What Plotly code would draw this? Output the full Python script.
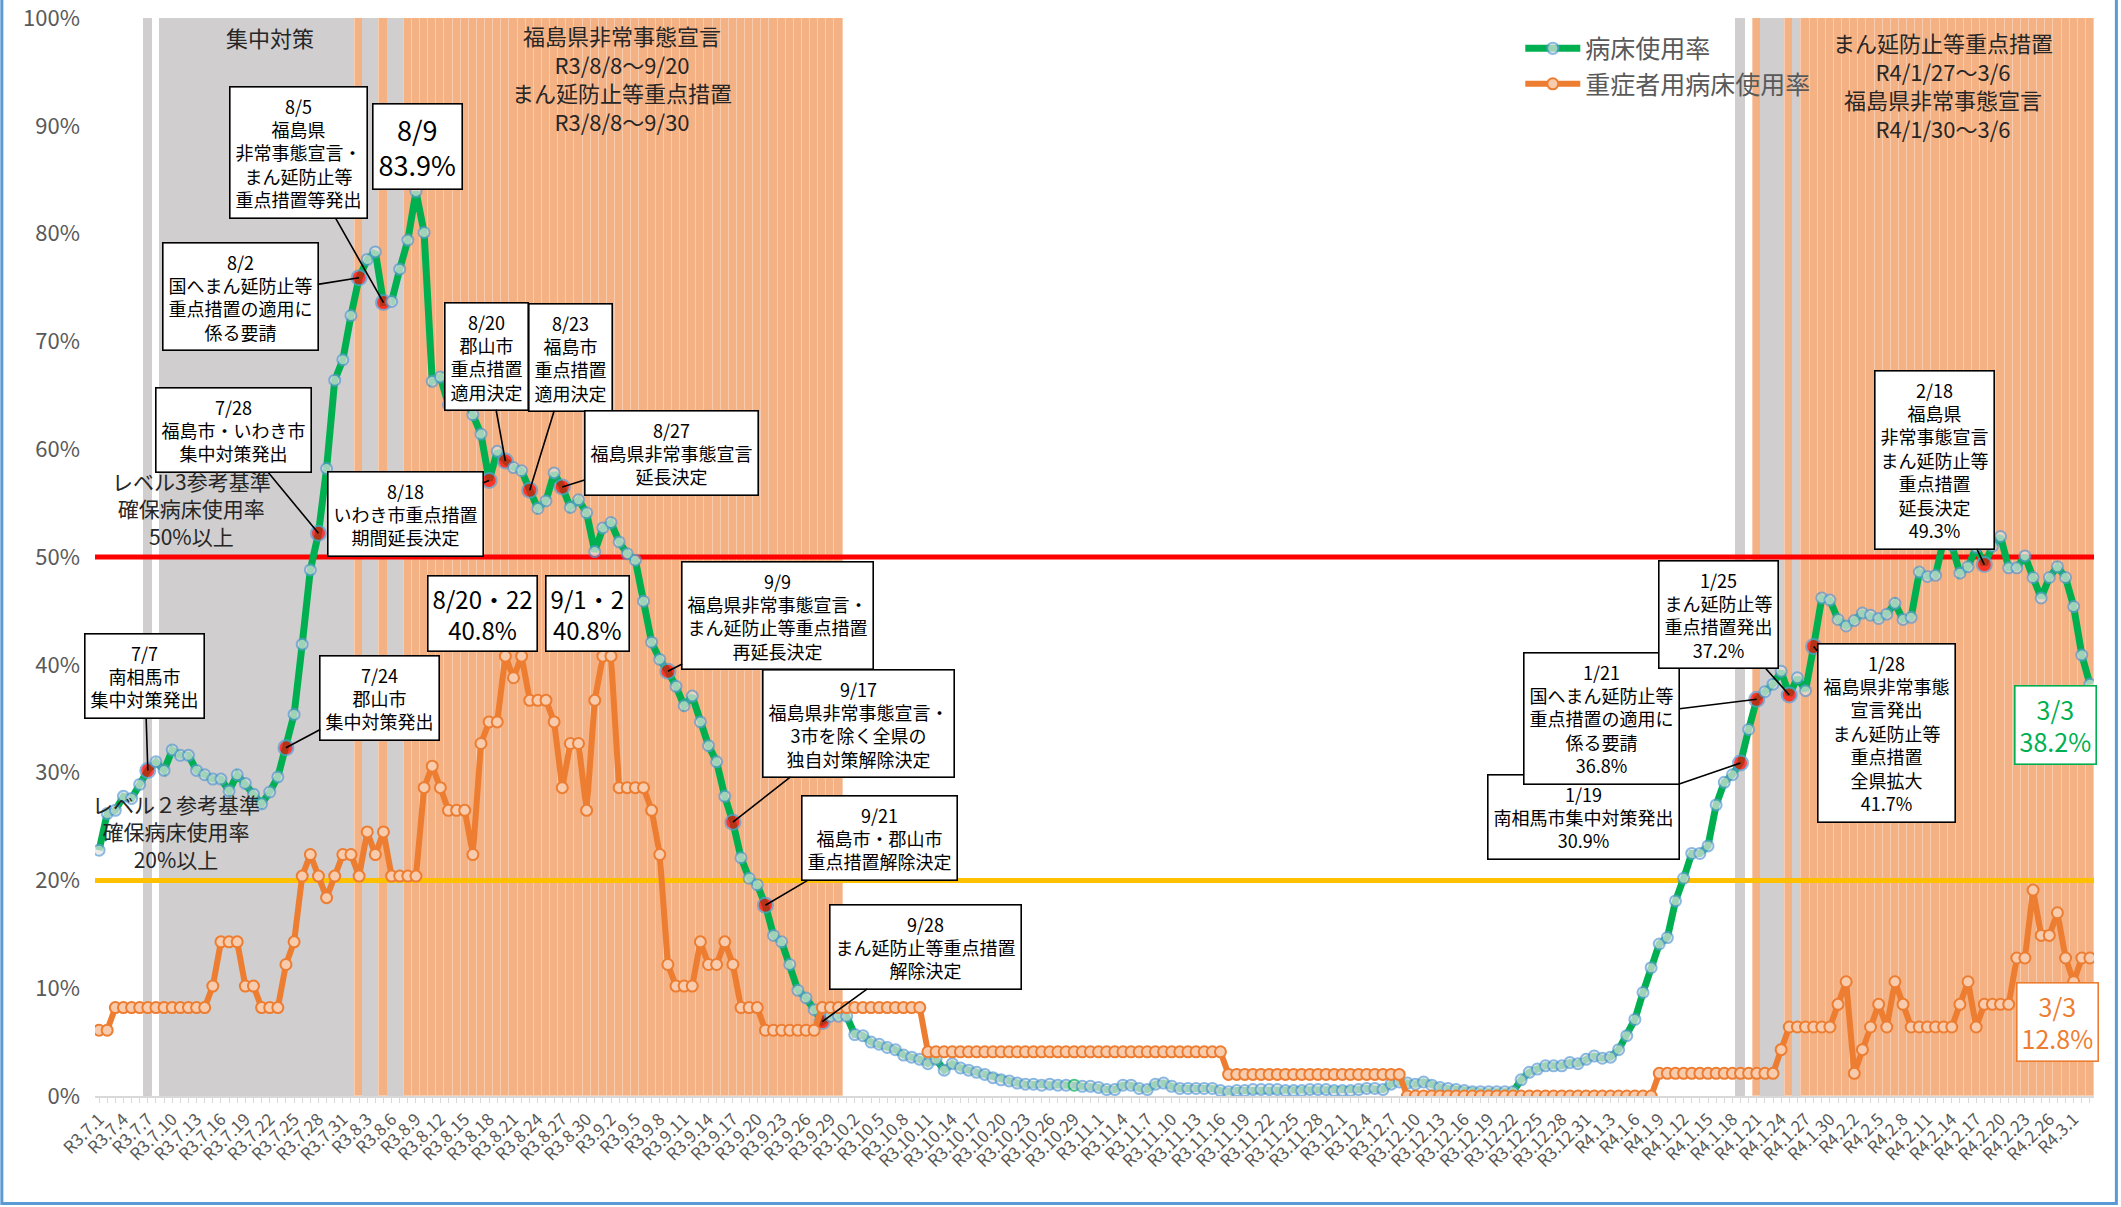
import plotly.graph_objects as go
from datetime import date, timedelta

FONT = "Noto Sans CJK JP"

# ---------------- categories (daily, R3.7.1 - R4.3.3) ----------------
start_day = date(2021, 7, 1)
n_days = 246
day_list = [start_day + timedelta(days=i) for i in range(n_days)]
date_labels = [f"R{d.year - 2018}.{d.month}.{d.day}" for d in day_list]
xpos = list(range(n_days))
tick_vals = xpos[::3]
tick_text = date_labels[::3]
y_tick_vals = [0, 10, 20, 30, 40, 50, 60, 70, 80, 90, 100]
y_tick_text = ["0%", "10%", "20%", "30%", "40%", "50%", "60%", "70%", "80%", "90%", "100%"]

# ---------------- series values (%) ----------------
bed_rate = [
    22.8, 26.2, 26.5, 27.8, 27.6, 28.9, 30.2, 31.0, 30.2, 32.1,
    31.6, 31.6, 30.2, 29.8, 29.4, 29.4, 28.3, 29.8, 29.0, 28.0,
    27.1, 28.2, 29.6, 32.3, 35.4, 41.9, 48.8, 52.2, 58.2, 66.4,
    68.3, 72.4, 75.9, 77.6, 78.3, 73.6, 73.7, 76.7, 79.4, 83.9,
    80.1, 66.3, 66.7, 64.1, 64.6, 64.6, 63.2, 61.4, 57.1, 59.8,
    58.9, 58.3, 58.0, 56.2, 54.5, 55.2, 57.8, 56.5, 54.6, 55.3,
    54.1, 50.5, 52.7, 53.2, 51.4, 50.3, 49.7, 45.9, 42.1, 40.5,
    39.4, 38.0, 36.2, 37.1, 34.7, 32.5, 31.0, 27.8, 25.4, 22.1,
    20.2, 19.6, 17.7, 14.9, 14.3, 12.2, 9.8, 9.1, 8.0, 6.9,
    7.4, 7.4, 7.4, 5.7, 5.6, 5.0, 4.8, 4.5, 4.3, 3.8,
    3.6, 3.4, 3.0, 3.4, 2.4, 3.0, 2.6, 2.4, 2.2, 2.0,
    1.7, 1.5, 1.4, 1.2, 1.1, 1.1, 1.0, 1.1, 1.0, 1.0,
    1.0, 0.9, 0.9, 0.8, 0.6, 0.6, 1.0, 1.0, 0.7, 0.6,
    1.1, 1.2, 0.9, 0.7, 0.7, 0.7, 0.7, 0.7, 0.5, 0.4,
    0.5, 0.5, 0.6, 0.6, 0.6, 0.6, 0.5, 0.5, 0.5, 0.6,
    0.6, 0.6, 0.5, 0.5, 0.5, 0.6, 0.7, 0.7, 0.6, 1.1,
    1.3, 1.2, 1.1, 1.3, 1.0, 0.8, 0.7, 0.6, 0.5, 0.4,
    0.4, 0.4, 0.4, 0.4, 0.4, 1.5, 2.2, 2.5, 2.8, 2.8,
    2.8, 3.1, 3.0, 3.4, 3.7, 3.5, 3.6, 4.3, 5.6, 7.1,
    9.6, 11.9, 14.1, 14.7, 18.1, 20.2, 22.5, 22.5, 23.2, 27.0,
    29.1, 29.8, 30.9, 34.0, 36.8, 37.5, 38.2, 39.4, 37.2, 38.8,
    37.6, 41.7, 46.2, 46.0, 44.2, 43.6, 44.1, 44.8, 44.6, 44.3,
    44.7, 45.7, 44.2, 44.4, 48.6, 48.2, 48.3, 51.6, 51.1, 48.5,
    49.1, 50.9, 49.3, 51.0, 51.9, 49.0, 49.0, 50.1, 48.1, 46.2,
    48.1, 49.1, 48.1, 45.4, 40.9, 38.2,
]

severe_rate = [
    6.1, 6.1, 8.2, 8.2, 8.2, 8.2, 8.2, 8.2, 8.2, 8.2,
    8.2, 8.2, 8.2, 8.2, 10.2, 14.3, 14.3, 14.3, 10.2, 10.2,
    8.2, 8.2, 8.2, 12.2, 14.3, 20.4, 22.4, 20.4, 18.4, 20.4,
    22.4, 22.4, 20.4, 24.5, 22.4, 24.5, 20.4, 20.4, 20.4, 20.4,
    28.6, 30.6, 28.6, 26.5, 26.5, 26.5, 22.4, 32.7, 34.7, 34.7,
    40.8, 38.8, 40.8, 36.7, 36.7, 36.7, 34.7, 28.6, 32.7, 32.7,
    26.5, 36.7, 40.8, 40.8, 28.6, 28.6, 28.6, 28.6, 26.5, 22.4,
    12.2, 10.2, 10.2, 10.2, 14.3, 12.2, 12.2, 14.3, 12.2, 8.2,
    8.2, 8.2, 6.1, 6.1, 6.1, 6.1, 6.1, 6.1, 6.1, 8.2,
    8.2, 8.2, 8.2, 8.2, 8.2, 8.2, 8.2, 8.2, 8.2, 8.2,
    8.2, 8.2, 4.1, 4.1, 4.1, 4.1, 4.1, 4.1, 4.1, 4.1,
    4.1, 4.1, 4.1, 4.1, 4.1, 4.1, 4.1, 4.1, 4.1, 4.1,
    4.1, 4.1, 4.1, 4.1, 4.1, 4.1, 4.1, 4.1, 4.1, 4.1,
    4.1, 4.1, 4.1, 4.1, 4.1, 4.1, 4.1, 4.1, 4.1, 2.0,
    2.0, 2.0, 2.0, 2.0, 2.0, 2.0, 2.0, 2.0, 2.0, 2.0,
    2.0, 2.0, 2.0, 2.0, 2.0, 2.0, 2.0, 2.0, 2.0, 2.0,
    2.0, 0.0, 0.0, 0.0, 0.0, 0.0, 0.0, 0.0, 0.0, 0.0,
    0.0, 0.0, 0.0, 0.0, 0.0, 0.0, 0.0, 0.0, 0.0, 0.0,
    0.0, 0.0, 0.0, 0.0, 0.0, 0.0, 0.0, 0.0, 0.0, 0.0,
    0.0, 0.0, 2.1, 2.1, 2.1, 2.1, 2.1, 2.1, 2.1, 2.1,
    2.1, 2.1, 2.1, 2.1, 2.1, 2.1, 2.1, 4.3, 6.4, 6.4,
    6.4, 6.4, 6.4, 6.4, 8.5, 10.6, 2.1, 4.3, 6.4, 8.5,
    6.4, 10.6, 8.5, 6.4, 6.4, 6.4, 6.4, 6.4, 6.4, 8.5,
    10.6, 6.4, 8.5, 8.5, 8.5, 8.5, 12.8, 12.8, 19.1, 14.9,
    14.9, 17.0, 12.8, 10.6, 12.8, 12.8,
]

thresholds = [50, 20]
threshold_colors = ["#FF0000", "#FFC000"]

event_days = ["R3.7.7", "R3.7.24", "R3.7.28", "R3.8.2", "R3.8.5", "R3.8.18",
              "R3.8.20", "R3.8.23", "R3.8.27", "R3.9.9", "R3.9.17", "R3.9.21",
              "R3.9.28", "R4.1.19", "R4.1.21", "R4.1.25", "R4.1.28", "R4.2.18"]

gray_ranges = [("R3.7.7", "R3.7.7"), ("R3.7.9", "R3.8.1"), ("R3.8.3", "R3.8.4"),
               ("R3.8.6", "R3.8.7"), ("R4.1.19", "R4.1.19"), ("R4.1.22", "R4.1.24"),
               ("R4.1.26", "R4.1.26")]
orange_ranges = [("R3.8.2", "R3.8.2"), ("R3.8.5", "R3.8.5"), ("R3.8.8", "R3.9.30"),
                 ("R4.1.21", "R4.1.21"), ("R4.1.25", "R4.1.25"), ("R4.1.27", "R4.3.3")]

GRAY = "#D0CECE"
ORANGE_BAND = "#F4B183"


def expand(ranges):
    out = set()
    for a, b in ranges:
        out.update(range(date_labels.index(a), date_labels.index(b) + 1))
    return out


gray_idx = expand(gray_ranges)
orange_idx = expand(orange_ranges)
band_y, band_col, band_line = [], [], []
for i in xpos:
    if i in orange_idx:
        band_y.append(100); band_col.append(ORANGE_BAND); band_line.append("#F8CDAF")
    elif i in gray_idx:
        band_y.append(100); band_col.append(GRAY); band_line.append(GRAY)
    else:
        band_y.append(None); band_col.append("white"); band_line.append("white")

fig = go.Figure()
fig.add_trace(go.Bar(x=xpos, y=band_y, width=1, marker=dict(color=band_col, line=dict(color=band_line, width=1)),
                     showlegend=False, hoverinfo="skip"))

xr = [xpos[0] - 0.5, xpos[-1] + 0.5]
for t, c in zip(thresholds, threshold_colors):
    fig.add_trace(go.Scatter(x=xr, y=[t, t], mode="lines", line=dict(color=c, width=5),
                             showlegend=False, hoverinfo="skip", cliponaxis=False))

ev_set = {date_labels.index(e) for e in event_days}
g_colors = ["#FF0000" if i in ev_set else "#E3E3E3" for i in xpos]
g_sizes = [15 if i in ev_set else 11 for i in xpos]
g_line = ["#5B9BD5"] * n_days
g_line[date_labels.index("R3.10.29")] = "#00B050"

fig.add_trace(go.Scatter(x=xpos, y=bed_rate, mode="lines+markers", name="病床使用率",
                         line=dict(color="#00B050", width=7),
                         marker=dict(color=g_colors, size=g_sizes, line=dict(color=g_line, width=2)),
                         legendgroup="a"))
fig.add_trace(go.Scatter(x=xpos, y=severe_rate, mode="lines+markers", name="重症者用病床使用率",
                         line=dict(color="#ED7D31", width=6),
                         marker=dict(color="#F8CBAD", size=11, line=dict(color="#ED7D31", width=2)),
                         legendgroup="b"))

# ---------------- callouts ----------------
callouts = [
    ("R3.7.7", "7/7<br>南相馬市<br>集中対策発出", -3, -94),
    ("R3.7.24", "7/24<br>郡山市<br>集中対策発出", 94, -50),
    ("R3.7.28", "7/28<br>福島市・いわき市<br>集中対策発出", -85, -103),
    ("R3.8.2", "8/2<br>国へまん延防止等<br>重点措置の適用に<br>係る要請", -119, 19),
    ("R3.8.5", "8/5<br>福島県<br>非常事態宣言・<br>まん延防止等<br>重点措置等発出", -85, -150),
    ("R3.8.18", "8/18<br>いわき市重点措置<br>期間延長決定", -84, 34),
    ("R3.8.20", "8/20<br>郡山市<br>重点措置<br>適用決定", -19, -105),
    ("R3.8.23", "8/23<br>福島市<br>重点措置<br>適用決定", 41, -133),
    ("R3.8.27", "8/27<br>福島県非常事態宣言<br>延長決定", 109, -34),
    ("R3.9.9", "9/9<br>福島県非常事態宣言・<br>まん延防止等重点措置<br>再延長決定", 110, -56),
    ("R3.9.17", "9/17<br>福島県非常事態宣言・<br>3市を除く全県の<br>独自対策解除決定", 126, -99),
    ("R3.9.21", "9/21<br>福島市・郡山市<br>重点措置解除決定", 114, -67),
    ("R3.9.28", "9/28<br>まん延防止等重点措置<br>解除決定", 103, -75),
    ("R4.1.19", "1/19<br>南相馬市集中対策発出<br>30.9%", -157, 54),
    ("R4.1.21", "1/21<br>国へまん延防止等<br>重点措置の適用に<br>係る要請<br>36.8%", -155, 19),
    ("R4.1.25", "1/25<br>まん延防止等<br>重点措置発出<br>37.2%", -71, -80),
    ("R4.1.28", "1/28<br>福島県非常事態<br>宣言発出<br>まん延防止等<br>重点措置<br>全県拡大<br>41.7%", 73, 87),
    ("R4.2.18", "2/18<br>福島県<br>非常事態宣言<br>まん延防止等<br>重点措置<br>延長決定<br>49.3%", -50, -105),
]
for d, txt, ax, ay in callouts:
    i = date_labels.index(d)
    fig.add_annotation(x=i, y=bed_rate[i], text=txt, showarrow=True, ax=ax, ay=ay,
                       arrowhead=0, arrowwidth=1.6, arrowcolor="black", standoff=0,
                       bgcolor="white", bordercolor="black", borderwidth=1.6, borderpad=5,
                       font=dict(family=FONT, size=18, color="black"))

i89 = date_labels.index("R3.8.9")
fig.add_annotation(x=i89, y=bed_rate[i89], text="8/9<br>83.9%", showarrow=True, ax=2, ay=-45,
                   arrowhead=0, arrowwidth=1, arrowcolor="#A6A6A6", standoff=6,
                   bgcolor="white", bordercolor="black", borderwidth=1.6, borderpad=5,
                   font=dict(family=FONT, size=27, color="black"))

labels_plain = [
    ("R3.8.20", severe_rate, "8/20・22<br>40.8%", -23, 43, "black"),
    ("R3.9.1", severe_rate, "9/1・2<br>40.8%", -15, 43, "black"),
]
for d, ser, txt, xs, ys, col in labels_plain:
    i = date_labels.index(d)
    fig.add_annotation(x=i, y=ser[i], text=txt, showarrow=False, xshift=xs, yshift=ys,
                       xanchor="center", yanchor="middle",
                       bgcolor="white", bordercolor="black", borderwidth=1.6, borderpad=4,
                       font=dict(family=FONT, size=24, color=col))

il = n_days - 1
fig.add_annotation(x=il, y=bed_rate[il], text="3/3<br>38.2%", showarrow=False, xshift=-34, yshift=-41,
                   xanchor="center", yanchor="middle",
                   bgcolor="white", bordercolor="#00B050", borderwidth=1.6, borderpad=4,
                   font=dict(family=FONT, size=25, color="#00B050"))
fig.add_annotation(x=il, y=severe_rate[il], text="3/3<br>12.8%", showarrow=False, xshift=-32, yshift=-64,
                   xanchor="center", yanchor="middle",
                   bgcolor="white", bordercolor="#ED7D31", borderwidth=1.6, borderpad=4,
                   font=dict(family=FONT, size=25, color="#ED7D31"))

# region texts
TXT = dict(showarrow=False, xanchor="center", yanchor="middle")
fig.add_annotation(xref="paper", yref="paper", x=0.0877, y=0.9825, text="集中対策",
                   font=dict(family=FONT, size=22, color="#262626"), **TXT)
fig.add_annotation(xref="paper", yref="paper", x=0.2636, y=0.944,
                   text="福島県非常事態宣言<br>R3/8/8～9/20<br>まん延防止等重点措置<br>R3/8/8～9/30",
                   font=dict(family=FONT, size=22, color="#262626"), **TXT)
fig.add_annotation(xref="paper", yref="paper", x=0.9247, y=0.938,
                   text="まん延防止等重点措置<br>R4/1/27～3/6<br>福島県非常事態宣言<br>R4/1/30～3/6",
                   font=dict(family=FONT, size=22, color="#262626"), **TXT)
fig.add_annotation(xref="paper", yref="y", x=0.0484, y=thresholds[0], yshift=4,
                   showarrow=False, xanchor="center", yanchor="bottom",
                   text="レベル3参考基準<br>確保病床使用率<br>50%以上",
                   font=dict(family=FONT, size=21, color="#262626"))
fig.add_annotation(xref="paper", yref="y", x=0.0404, y=thresholds[1], yshift=4,
                   showarrow=False, xanchor="center", yanchor="bottom",
                   text="レベル２参考基準<br>確保病床使用率<br>20%以上",
                   font=dict(family=FONT, size=21, color="#262626"))

# outer border
fig.add_shape(type="rect", xref="paper", yref="paper", x0=-0.0466, x1=1.0112, y0=-0.0998, y1=1.03,
              line=dict(color="#5B9BD5", width=3), layer="above")

fig.update_layout(
    width=2121, height=1207,
    margin=dict(l=95, r=27, t=18, b=111, autoexpand=False),
    paper_bgcolor="white", plot_bgcolor="white",
    bargap=0, barmode="overlay",
    font=dict(family=FONT, color="#595959"),
    legend=dict(x=0.713, y=0.993, xanchor="left", yanchor="top", bgcolor="rgba(0,0,0,0)",
                font=dict(family=FONT, size=25, color="#595959"), tracegroupgap=24,
                itemwidth=55, traceorder="normal"),
    xaxis=dict(range=xr, tickmode="array", tickvals=tick_vals, ticktext=tick_text, tickangle=-45,
               ticks="outside", ticklen=5, tickcolor="#D9D9D9", showline=True, linecolor="#D9D9D9",
               linewidth=1.5, showgrid=False, zeroline=False, automargin=False,
               tickfont=dict(family=FONT, size=17, color="#595959"),
               minor=dict(ticks="outside", tickmode="linear", tick0=0, dtick=1, ticklen=5,
                          tickcolor="#D9D9D9", showgrid=False)),
    yaxis=dict(range=[0, 100], tickmode="array", tickvals=y_tick_vals, ticktext=y_tick_text,
               showgrid=False, zeroline=False, ticklabeloverflow="allow",
               showline=False, automargin=False, ticklabelstandoff=14,
               tickfont=dict(family=FONT, size=22, color="#595959")),
)

fig.write_html("out.html", config={"displayModeBar": False},
               post_script="document.body.style.margin='0';document.body.style.overflow='hidden';")
